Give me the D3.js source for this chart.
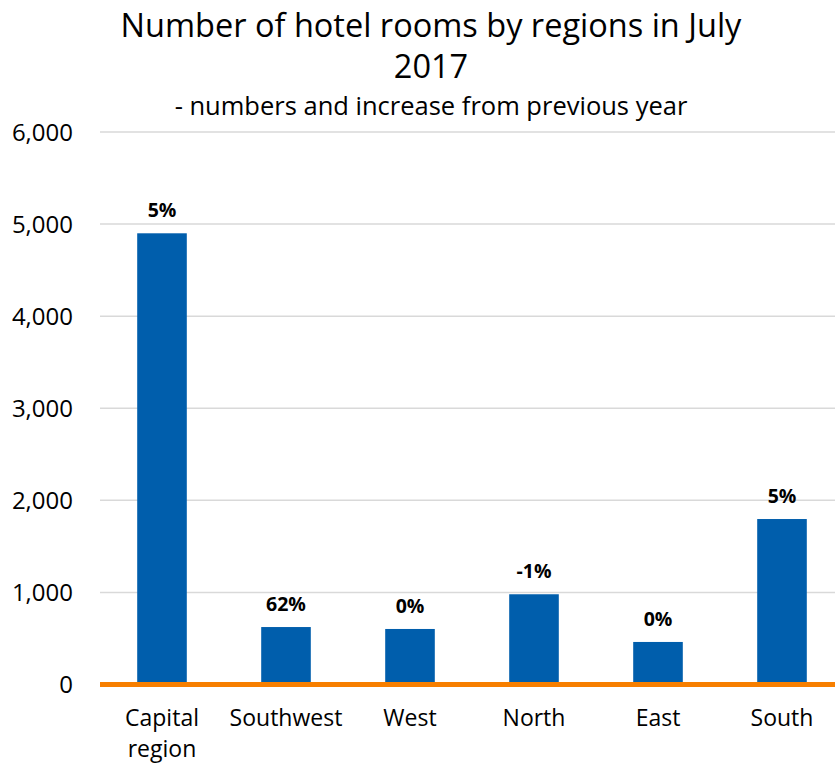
<!DOCTYPE html>
<html>
<head>
<meta charset="utf-8">
<script src="https://cdn.jsdelivr.net/npm/d3@7"></script>
<style>
  body { margin: 0; background: #fff; }
  svg { display: block; }
  text { font-family: "Open Sans", sans-serif; fill: #000; }
</style>
</head>
<body>
<svg id="chart" width="835" height="764"></svg>
<script>
// Hotel rooms by region, July 2017, with change from previous year
const categories = ["Capital region", "Southwest", "West", "North", "East", "South"];
const rooms = [4900, 624, 603, 980, 462, 1797];
const changeLabels = ["5%", "62%", "0%", "-1%", "0%", "5%"];
const yTicks = [0, 1000, 2000, 3000, 4000, 5000, 6000];

const svg = d3.select("#chart");
const plotLeft = 100, plotRight = 844, plotTop = 132, plotBottom = 684.5;

const x = d3.scaleBand().domain(categories).range([plotLeft, plotRight])
  .paddingInner(0.6).paddingOuter(0.3);
const y = d3.scaleLinear().domain([0, 6000]).range([plotBottom, plotTop]);

// Title and subtitle
svg.append("text").attr("x", 431).attr("y", 37).attr("text-anchor", "middle")
  .style("font-size", "32.5px").text("Number of hotel rooms by regions in July");
svg.append("text").attr("x", 431).attr("y", 78).attr("text-anchor", "middle")
  .style("font-size", "32.5px").text("2017");
svg.append("text").attr("x", 431).attr("y", 115).attr("text-anchor", "middle")
  .style("font-size", "25.5px").text("- numbers and increase from previous year");

// Horizontal gridlines
svg.append("g").selectAll("line").data(yTicks.filter(d => d > 0)).join("line")
  .attr("x1", plotLeft).attr("x2", plotRight)
  .attr("y1", d => y(d)).attr("y2", d => y(d))
  .attr("stroke", "#d9d9d9").attr("stroke-width", 1.5);

// Y axis labels
const yAxis = d3.axisLeft(y).tickValues(yTicks).tickFormat(d3.format(",")).tickSize(0).tickPadding(0);
const gy = svg.append("g").attr("transform", "translate(73,0)").call(yAxis);
gy.select(".domain").remove();
gy.selectAll("text").style("font-size", "24px").style("font-family", "'Open Sans', sans-serif")
  .attr("fill", "#000").attr("dy", "0.35em");

// Bars
svg.append("g").selectAll("rect").data(categories).join("rect")
  .attr("x", d => x(d)).attr("width", x.bandwidth())
  .attr("y", (d, i) => y(rooms[i]))
  .attr("height", (d, i) => y(0) - y(rooms[i]))
  .attr("fill", "#005eac");

// Change labels above bars
svg.append("g").selectAll("text").data(categories).join("text")
  .attr("x", d => x(d) + x.bandwidth() / 2)
  .attr("y", (d, i) => y(rooms[i]) - 16)
  .attr("text-anchor", "middle")
  .style("font-size", "19.5px").style("font-weight", "bold")
  .text((d, i) => changeLabels[i]);

// Zero baseline
svg.append("line").attr("x1", plotLeft).attr("x2", plotRight)
  .attr("y1", y(0)).attr("y2", y(0))
  .attr("stroke", "#f77f00").attr("stroke-width", 5);

// Category labels (wrapped on spaces for "Capital region")
const xl = svg.append("g").selectAll("text").data(categories).join("text")
  .attr("x", d => x(d) + x.bandwidth() / 2)
  .attr("y", 726)
  .attr("text-anchor", "middle")
  .style("font-size", "23px");
xl.each(function (d) {
  const words = d === "Capital region" ? ["Capital", "region"] : [d];
  const t = d3.select(this);
  words.forEach((w, k) => {
    t.append("tspan").attr("x", x(d) + x.bandwidth() / 2).attr("dy", k === 0 ? 0 : 30.5).text(w);
  });
});
</script>
</body>
</html>
